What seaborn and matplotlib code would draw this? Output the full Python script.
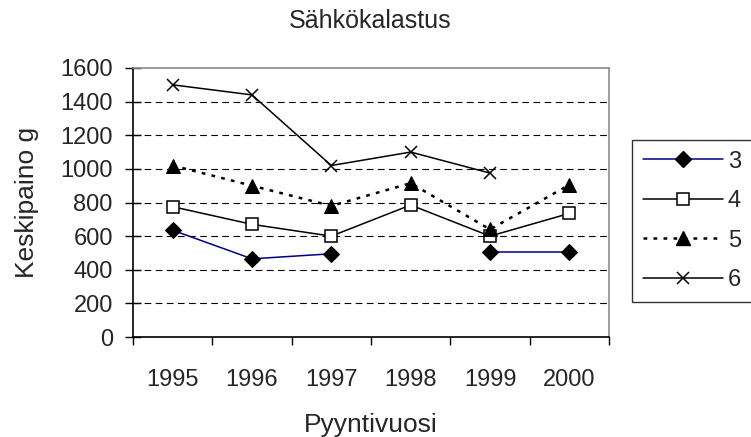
import numpy as np
import pandas as pd
import matplotlib
matplotlib.use("Agg")
import matplotlib.pyplot as plt
from matplotlib.lines import Line2D
import seaborn as sns

# ---- data ----
years = ["1995", "1996", "1997", "1998", "1999", "2000"]
s3 = [635, 465, 495, np.nan, 505, 505]
s4 = [775, 670, 600, 785, 600, 735]
s5 = [1020, 900, 780, 915, 640, 905]
s6 = [1500, 1440, 1020, 1100, 975, np.nan]
series_names = ["3", "4", "5", "6"]
y_ticks = [0, 200, 400, 600, 800, 1000, 1200, 1400, 1600]
title = "Sähkökalastus"
xlabel = "Pyyntivuosi"
ylabel = "Keskipaino g"

sns.set_theme(style="white")
plt.rcParams['font.family'] = ['Liberation Sans', 'DejaVu Sans']

W, H = 751, 437
fig = plt.figure(figsize=(W / 100, H / 100), dpi=100)
ax = fig.add_axes([133 / W, 1 - 337 / H, (609 - 133) / W, (337 - 68) / H])

FS = 17
FL = 19

styles = {
    "3": dict(color="#000080", linestyle="-", marker="D", markersize=8,
              markerfacecolor="black", markeredgecolor="black", linewidth=1.1),
    "4": dict(color="black", linestyle="-", marker="s", markersize=8.5,
              markerfacecolor="white", markeredgecolor="black", markeredgewidth=1.1, linewidth=1.1),
    "5": dict(color="black", linestyle=(0, (1.5, 2.5)), marker="^", markersize=9.5,
              markerfacecolor="black", markeredgecolor="black", linewidth=1.8),
    "6": dict(color="black", linestyle="-", marker="x", markersize=8.5,
              markeredgecolor="black", markerfacecolor="black",
              markeredgewidth=1.1, linewidth=1.1),
}

xs = np.arange(len(years))
for name, vals in zip(series_names, [s3, s4, s5, s6]):
    vals = np.asarray(vals, dtype=float)
    seg = np.cumsum(np.isnan(vals))
    df = pd.DataFrame({"x": xs, "y": vals, "seg": seg}).dropna()
    sns.lineplot(data=df, x="x", y="y", units="seg", estimator=None,
                 ax=ax, legend=False, **styles[name])

ax.set_xlim(-0.5, 5.5)
ax.set_ylim(0, 1600)
ax.set_yticks(y_ticks)
ax.set_yticklabels([str(t) for t in y_ticks], fontsize=FS)
ax.set_xticks(np.arange(-0.5, 6.0, 1.0))
ax.set_xticklabels([])
ax.set_xticks(xs, minor=True)
ax.set_xticklabels(years, minor=True, fontsize=FS)
ax.tick_params(axis="x", which="major", direction="out", length=6, width=1, color="black", bottom=True)
ax.tick_params(axis="x", which="minor", length=0, pad=23, bottom=True)
ax.tick_params(axis="y", direction="inout", length=11, width=1, color="black", pad=9, left=True)

for y in y_ticks[1:-1]:
    ax.axhline(y, color="black", linestyle=(0, (6, 4)), linewidth=0.8, zorder=0)

for side in ["left", "bottom"]:
    ax.spines[side].set_color("black")
    ax.spines[side].set_linewidth(1.2)
for side in ["top", "right"]:
    ax.spines[side].set_color("#8c8c8c")
    ax.spines[side].set_linewidth(1.2)

ax.set_xlabel(xlabel, fontsize=FL, labelpad=16)
ax.set_ylabel(ylabel, fontsize=FL, labelpad=15)
fig.text(370 / W, 1 - 21 / H, title, ha="center", va="center", fontsize=18)

handles = [Line2D([0], [0], **styles[n]) for n in series_names]
leg = fig.legend(handles, series_names, loc="upper left",
                 bbox_to_anchor=(632 / W, 1 - 140 / H), bbox_transform=fig.transFigure,
                 borderaxespad=0, fontsize=FS, handlelength=3.4, handletextpad=0.2,
                 labelspacing=0.74, borderpad=0.45, fancybox=False, frameon=True)
leg.get_frame().set_edgecolor("black")
leg.get_frame().set_linewidth(1.0)
leg.get_frame().set_boxstyle("square", pad=0)

fig.savefig("out.png", dpi=100)
